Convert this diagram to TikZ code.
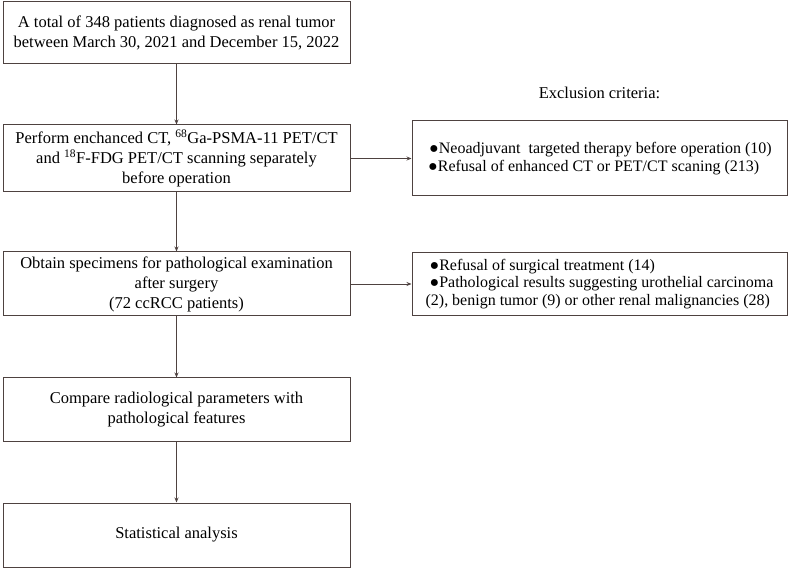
\documentclass[tikz,border=0pt]{standalone}
\usepackage{fontspec}
\setmainfont{Liberation Serif}
\usetikzlibrary{arrows.meta}
\definecolor{linecol}{RGB}{78,66,64}
\begin{document}
\begin{tikzpicture}[x=1pt,y=1pt,node distance=125.5pt,
   font=\fontsize{16.5pt}{20pt}\selectfont,
   box/.style={draw=linecol,line width=1pt,minimum width=347pt,minimum height=64pt,align=center,inner sep=2pt},
   exbox/.style={draw=linecol,line width=1pt,minimum width=375pt,align=left,inner sep=2pt,
      font=\fontsize{16pt}{17.5pt}\selectfont},
   arr/.style={draw=linecol,line width=0.9pt,-{Stealth[length=5pt,width=4pt]}}]
   \useasboundingbox (0,0) rectangle (793,-569);
   \node (0) [box,minimum height=62pt] at (176.5,-33) {A total of 348 patients diagnosed as renal tumor\\between March 30, 2021 and December 15, 2022};
   \node (1) [box,minimum height=67pt,below of=0] {Perform enchanced CT, \textsuperscript{68}Ga-PSMA-11 PET/CT\\and \textsuperscript{18}F-FDG PET/CT scanning separately\\before operation};
   \node (2) [box,below of=1] {Obtain specimens for pathological examination\\after surgery\\(72 ccRCC patients)};
   \node (3) [box,minimum height=63pt,below of=2] {Compare radiological parameters with\\pathological features};
   \node (4) [box,below of=3] {Statistical analysis};
   \node (5) [exbox,minimum height=75pt,right of=1,node distance=423pt] {\hspace{2pt}●Neoadjuvant\ \ targeted therapy before operation (10)\\\hspace{1pt}●Refusal of enhanced CT or PET/CT scaning (213)};
   \node (6) [exbox,minimum height=63pt,right of=2,node distance=423pt] {\hspace{4pt}●Refusal of surgical treatment (14)\\\hspace{4pt}●Pathological results suggesting urothelial carcinoma\\(2), benign tumor (9) or other renal malignancies (28)};
   \node (7) [above of=5,node distance=66pt] {Exclusion criteria:};
   \draw[arr] (0) -- (1);
   \draw[arr] (1) -- (2);
   \draw[arr] (2) -- (3);
   \draw[arr] (3) -- (4);
   \draw[arr] (1) -- (5);
   \draw[arr] (2) -- (6);
  \end{tikzpicture}
\end{document}
